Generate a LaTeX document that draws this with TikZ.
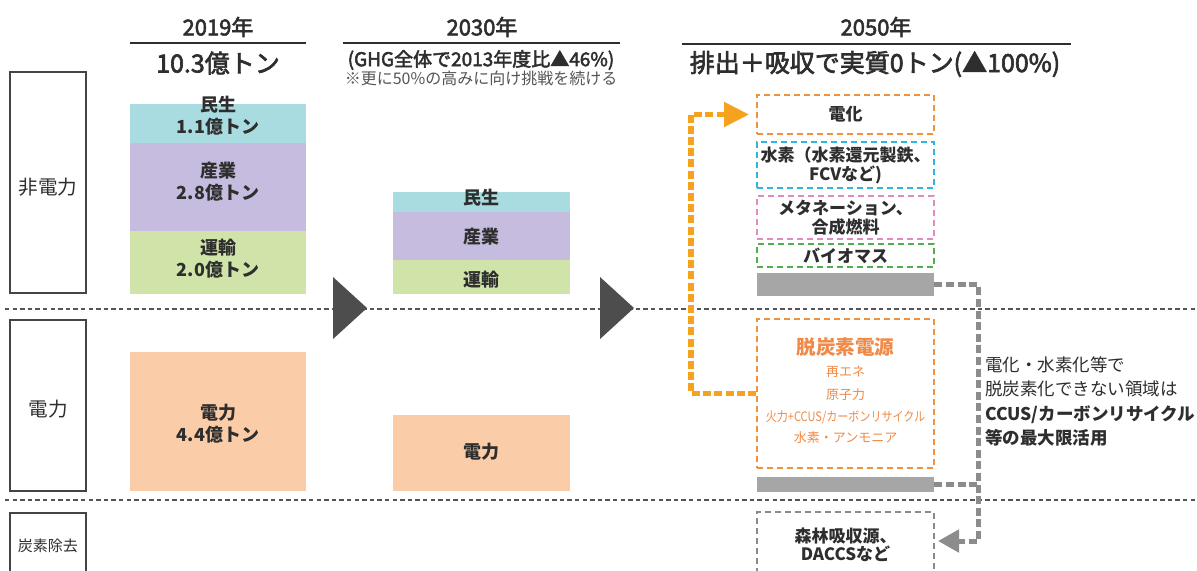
\documentclass[tikz,border=0pt]{standalone}
\usepackage{fontspec}
\usepackage{graphicx}
\setmainfont{Noto Sans CJK JP}
\newfontfamily\medfont[FakeBold=2.5]{Noto Sans CJK JP}
\usetikzlibrary{arrows.meta}
\definecolor{txt}{HTML}{2E2E2E}
\definecolor{catline}{HTML}{444444}
\definecolor{cMin}{HTML}{A9DCE0}
\definecolor{cSan}{HTML}{C6BCDF}
\definecolor{cUn}{HTML}{D0E4A9}
\definecolor{cDen}{HTML}{FACDA8}
\definecolor{dOrange}{HTML}{F0923C}
\definecolor{dCyan}{HTML}{2EB5E0}
\definecolor{dPink}{HTML}{E08CC0}
\definecolor{dGreen}{HTML}{4DB04A}
\definecolor{dGray}{HTML}{8A8A8A}
\definecolor{barGray}{HTML}{A6A6A6}
\definecolor{conOrange}{HTML}{F5A31E}
\definecolor{conGray}{HTML}{8C8C8C}
\definecolor{triGray}{HTML}{4D4D4D}
\definecolor{oText}{HTML}{F08A46}
\definecolor{sepGray}{HTML}{555555}
\tikzset{
  catbox/.style={draw=catline, line width=0.6pt, minimum width=38pt, inner sep=0pt, text=txt, font=\fontsize{9.8}{11}\selectfont},
  barbox/.style={minimum width=88pt, inner sep=0pt, draw=none},
  lbl/.style={text=txt, font=\bfseries\fontsize{9}{11}\selectfont, align=center, inner sep=0pt},
  dbox/.style={line width=1pt, dash pattern=on 3pt off 2pt, minimum width=88.5pt, inner sep=0pt, text=txt, font=\bfseries\fontsize{8.5}{9.5}\selectfont, align=center},
  gbar/.style={fill=barGray, minimum width=88.5pt, inner sep=0pt},
  hdr/.style={text=txt, font=\medfont\fontsize{11}{13}\selectfont, inner sep=0pt},
  sub/.style={text=txt, font=\medfont\fontsize{12.5}{14}\selectfont, inner sep=0pt},
  hline/.style={draw=txt, line width=0.7pt},
  sepline/.style={draw=sepGray, line width=0.6pt, dash pattern=on 2.2pt off 1.6pt},
  otxt/.style={text=oText, font=\fontsize{6.5}{8}\selectfont, inner sep=0pt},
  ocon/.style={draw=conOrange, line width=2.6pt, dash pattern=on 4pt off 1.6pt, -{Triangle[length=12.5pt,width=12pt]}, shorten >=3.5pt},
  gcon/.style={draw=conGray, line width=2.5pt, dash pattern=on 4pt off 1.8pt},
  gcona/.style={gcon, -{Triangle[length=10.5pt,width=11pt]}, shorten >=1.5pt},
}
\begin{document}
\begin{tikzpicture}[x=0.5pt,y=-0.5pt]
\useasboundingbox (0,0) rectangle (1197,570);
\fill[white] (0,0) rectangle (1197,570);

% separators
\coordinate (s1a) at (5,309); \coordinate (s1b) at (1197,309);
\coordinate (s2a) at (5,500); \coordinate (s2b) at (1197,500);
\draw[sepline] (s1a) -- (s1b);
\draw[sepline] (s2a) -- (s2b);

% category boxes
\node[catbox, minimum height=110.5pt] (cat1) at (48,182.5) {};
\node[text=txt, font=\fontsize{9.8}{11}\selectfont, inner sep=0pt] (tcat1) at (48,187) {非電力};
\node[catbox, minimum height=85.5pt] (cat2) at (48,405.5) {};
\node[text=txt, font=\fontsize{9.8}{11}\selectfont, inner sep=0pt] (tcat2) at (48,409) {電力};
\node[catbox, minimum height=32.5pt, font=\fontsize{7.5}{9}\selectfont] (cat3) at (48,545.5) {炭素除去};

% headers
\node[hdr] (h19) at (218,27) {2019年};
\node[hdr] (h30) at (482,27) {2030年};
\node[hdr] (h50) at (876,27) {2050年};
\coordinate (l19a) at (130,43); \coordinate (l19b) at (306,43);
\coordinate (l30a) at (343,43); \coordinate (l30b) at (620,43);
\coordinate (l50a) at (682,44); \coordinate (l50b) at (1071,44);
\draw[hline] (l19a) -- (l19b);
\draw[hline] (l30a) -- (l30b);
\draw[hline] (l50a) -- (l50b);
\node[sub] (s19) at (218,63) {10.3億トン};
\node[text=txt, font=\medfont\fontsize{9.5}{11}\selectfont, inner sep=0pt] (s30) at (481,60) {(GHG全体で2013年度比▲46\%)};
\node[text=sepGray, font=\fontsize{8}{9}\selectfont, inner sep=0pt] (s30b) at (481,78) {※更に50\%の高みに向け挑戦を続ける};
\node[sub] (s50) at (875,64) {排出＋吸収で実質0トン(▲100\%)};

% 2019 bars
\node[barbox, fill=cMin, minimum height=19.5pt] (b19min) at (218,123.5) {};
\node[barbox, fill=cSan, minimum height=44pt] (b19san) at (218,187) {};
\node[barbox, fill=cUn, minimum height=31.5pt] (b19un) at (218,262.5) {};
\node[barbox, fill=cDen, minimum height=69.5pt] (b19den) at (218,421.5) {};
\node[lbl] (t19min) at (218,115.5) {民生\\1.1億トン};
\node[lbl] (t19san) at (218,182) {産業\\2.8億トン};
\node[lbl] (t19un) at (218,259) {運輸\\2.0億トン};
\node[lbl] (t19den) at (218,424) {電力\\4.4億トン};

% 2030 bars
\node[barbox, fill=cMin, minimum height=10pt, minimum width=88.5pt] (b30min) at (481.5,202) {};
\node[barbox, fill=cSan, minimum height=24pt, minimum width=88.5pt] (b30san) at (481.5,236) {};
\node[barbox, fill=cUn, minimum height=17pt, minimum width=88.5pt] (b30un) at (481.5,277) {};
\node[barbox, fill=cDen, minimum height=38pt, minimum width=88.5pt] (b30den) at (481.5,453) {};
\node[lbl] (t30min) at (481.5,198) {民生};
\node[lbl] (t30san) at (481.5,237) {産業};
\node[lbl] (t30un) at (481.5,280) {運輸};
\node[lbl] (t30den) at (481.5,452) {電力};

% big arrows
\fill[triGray] (333,277) -- (367,308) -- (333,339) -- cycle;
\fill[triGray] (600,277) -- (634,308) -- (600,339) -- cycle;

% 2050 boxes
\node[dbox, draw=dOrange, minimum height=19.5pt] (denka) at (845.5,114.5) {電化};
\node[dbox, draw=dCyan, minimum height=23pt] (suiso) at (845.5,165) {水素（水素還元製鉄、\\FCVなど)};
\node[dbox, draw=dPink, minimum height=21.5pt] (meta) at (845.5,217.5) {メタネーション、\\合成燃料};
\node[dbox, draw=dGreen, minimum height=11.5pt] (bio) at (845.5,255.5) {バイオマス};
\node[gbar, minimum height=11.5pt] (bar1) at (845.5,284.5) {};
\node[dbox, draw=dOrange, minimum height=74.5pt] (datsu) at (845.5,393.5) {};
\node[gbar, minimum height=7.5pt] (bar2) at (845.5,484.5) {};
\node[dbox, draw=dGray, minimum height=40pt] (shinrin) at (845.5,552) {};
\node[text=txt, font=\bfseries\fontsize{8.5}{8}\selectfont, align=center, inner sep=0pt] (tshin) at (845.5,545) {森林吸収源、\\DACCSなど};

% datsu text
\node[text=oText, font=\bfseries\fontsize{9.8}{11}\selectfont, inner sep=0pt] (td0) at (845.5,347) {脱炭素電源};
\node[otxt] (td1) at (845.5,372) {再エネ};
\node[otxt] (td2) at (845.5,395) {原子力};
\node[otxt] (td3) at (845.5,417) {\scalebox{0.85}[1]{火力+CCUS/カーボンリサイクル}};
\node[otxt] (td4) at (845.5,438) {水素・アンモニア};

% right text
\node[text=txt, font=\fontsize{8.75}{12.25}\selectfont, align=left, anchor=west, inner sep=0pt] (rtext) at (985,401.5)
 {電化・水素化等で\\脱炭素化できない領域は\\\textbf{CCUS/カーボンリサイクル}\\\textbf{等の最大限活用}};

% connectors
\coordinate (ox) at (691,0);
\draw[ocon] (datsu.west) -- (datsu.west -| ox) -- (denka.west -| ox) -- (denka.west);
\coordinate (gx) at (978,0);
\coordinate (gy) at (0,541);
\draw[gcona] (bar1.east) -- (bar1.east -| gx) -- (gy -| gx) -- (gy -| shinrin.east);
\draw[gcon] (bar2.east) -- (bar2.east -| gx);
\end{tikzpicture}
\end{document}
